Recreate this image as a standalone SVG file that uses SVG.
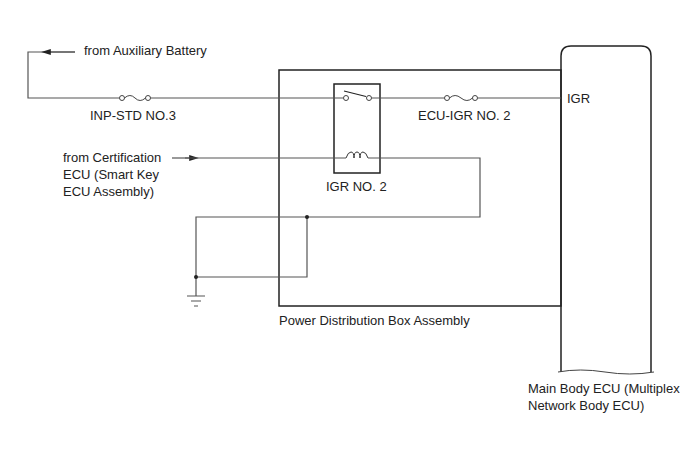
<svg xmlns="http://www.w3.org/2000/svg" width="688" height="463" viewBox="0 0 688 463">
<style>
text{font-family:"Liberation Sans",Arial,sans-serif;font-size:13px;fill:#222}
.w{fill:none;stroke:#555;stroke-width:1.2}
.b{fill:none;stroke:#222;stroke-width:1.5}
</style>
<defs><marker id="a" viewBox="0 0 10 6" refX="5" refY="3" markerWidth="8" markerHeight="5" orient="auto"><path d="M0,0L10,3L0,6z" fill="#222"/></marker></defs>
<rect width="688" height="463" fill="#fff"/>
<g id="pdb"><rect x="279" y="70" width="282" height="236" class="b"/><text x="279" y="325">Power Distribution Box Assembly</text></g>
<g id="ecu"><path d="M561,372V56Q561,46 571,46H641Q651,46 651,56V372" class="b"/><path d="M558,372Q580,368 605,372T654,372" fill="none" stroke="#444" stroke-width="1"/><text x="567" y="103">IGR</text><text x="528" y="393">Main Body ECU (Multiplex</text><text x="528" y="410">Network Body ECU)</text></g>
<g id="relay"><rect x="334" y="84" width="46" height="89" class="b"/><circle cx="346" cy="98" r="2.5" fill="#fff" stroke="#444"/><circle cx="369" cy="98" r="2.5" fill="#fff" stroke="#444"/><line x1="344" y1="91" x2="366" y2="96.5" stroke="#222" stroke-width="1.2"/><path d="M346,158Q348,152 351,152Q354,152 354,158Q354,152 357,152Q360,152 360,158Q360,152 363,152Q366,152 368,158" fill="none" stroke="#333"/><text x="326" y="191">IGR NO. 2</text></g>
<g id="fuses"><circle cx="122" cy="98" r="2.5" fill="#fff" stroke="#444"/><circle cx="148" cy="98" r="2.5" fill="#fff" stroke="#444"/><path d="M124.5,98Q130,93 135,98T145.5,98" fill="none" stroke="#444"/><text x="90" y="120">INP-STD NO.3</text><circle cx="447" cy="98" r="2.5" fill="#fff" stroke="#444"/><circle cx="475" cy="98" r="2.5" fill="#fff" stroke="#444"/><path d="M449.5,98Q455,93 461,98T472.5,98" fill="none" stroke="#444"/><text x="418" y="120">ECU-IGR NO. 2</text></g>
<g id="connectors">
<path d="M75,52H28V98H119.5M150.5,98H343.5M371.5,98H444.5M477.5,98H561" class="w"/>
<line x1="75" y1="52" x2="46" y2="52" class="w" marker-end="url(#a)"/>
<line x1="172" y1="158" x2="194" y2="158" class="w" marker-end="url(#a)"/>
<path d="M185,158H346M368,158H480V217H196V296M307,217V277H196" class="w"/>
<circle cx="307" cy="217" r="2" fill="#222"/><circle cx="196" cy="277" r="2" fill="#222"/>
<path d="M187,296H205M191,301H201M194,306H198" stroke="#555" stroke-width="1.2"/>
</g>
<g id="labels"><text x="84" y="55">from Auxiliary Battery</text><text x="63" y="162">from Certification</text><text x="63" y="179">ECU (Smart Key</text><text x="63" y="196">ECU Assembly)</text></g>
</svg>
